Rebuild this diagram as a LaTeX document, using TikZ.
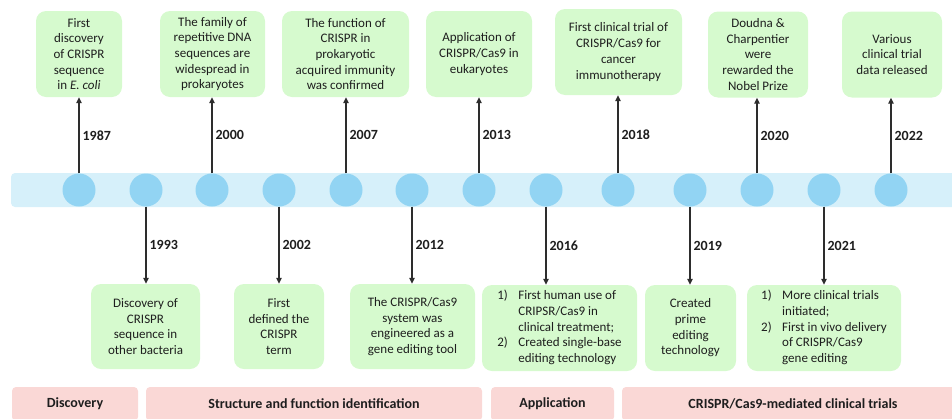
\documentclass[tikz,border=0pt]{standalone}
\usepackage{fontspec}
\setmainfont{Carlito}
\usepackage{tikz}
\usetikzlibrary{arrows.meta,positioning,calc}
\definecolor{TlGreen}{RGB}{214,250,206}
\definecolor{TlBand}{RGB}{214,240,250}
\definecolor{TlDot}{RGB}{146,212,243}
\definecolor{TlPink}{RGB}{250,216,214}
\definecolor{TlInk}{RGB}{30,30,30}
\definecolor{TlLine}{RGB}{45,45,45}
\tikzset{
  evbox/.style={fill=TlGreen, rounded corners=10pt, align=center, text=TlInk,
                font=\fontsize{13}{15.7}\selectfont, inner sep=2pt},
  phasebar/.style={fill=TlPink, rounded corners=4pt, align=center, text=TlInk,
                font=\fontsize{14}{16}\selectfont\bfseries, minimum height=34},
  dot/.style={circle, fill=TlDot, minimum size=33, inner sep=0pt},
  seta/.style={-{Triangle[length=6pt,width=5.5pt]}, line width=1.2pt, TlLine},
  yearlabel/.style={font=\fontsize{14}{16}\selectfont\bfseries, text=TlInk, inner sep=3pt},
}

\begin{document}
\begin{tikzpicture}[x=1pt,y=-1pt]
  \useasboundingbox (0,0) rectangle (952,418);

  % faixa da linha do tempo
  \fill[TlBand, rounded corners=4pt] (11,173) rectangle (970,207);
  \foreach \yr/\x in {1987/79, 1993/146, 2000/212, 2002/279, 2007/346, 2012/412, 2013/479,
                      2016/546, 2018/618, 2019/690, 2020/757, 2021/824, 2022/891}{
    \node[dot] (c\yr) at (\x,190) {};
  }

  % eventos acima da faixa
  \node[evbox, minimum width=86, minimum height=86] (b1987) at (79,54)
    {First\\discovery\\of CRISPR\\sequence\\in \textit{E. coli}};
  \node[evbox, minimum width=105, minimum height=86] (b2000) at (212.5,54)
    {The family of\\repetitive DNA\\sequences are\\widespread in\\prokaryotes};
  \node[evbox, minimum width=127, minimum height=86] (b2007) at (345.5,54)
    {The function of\\CRISPR in\\prokaryotic\\acquired immunity\\was confirmed};
  \node[evbox, minimum width=106, minimum height=86] (b2013) at (479,54)
    {Application of\\CRISPR/Cas9 in\\eukaryotes};
  \node[evbox, minimum width=127, minimum height=86] (b2018) at (618.5,52)
    {First clinical trial of\\CRISPR/Cas9 for\\cancer\\immunotherapy};
  \node[evbox, minimum width=100, minimum height=86] (b2020) at (758,54.5)
    {Doudna \&\\Charpentier\\were\\rewarded the\\Nobel Prize};
  \node[evbox, minimum width=100, minimum height=86] (b2022) at (892,54.5)
    {Various\\clinical trial\\data released};

  % eventos abaixo da faixa
  \node[evbox, minimum width=109, minimum height=85] (b1993) at (145.5,326.5)
    {Discovery of\\CRISPR\\sequence in\\other bacteria};
  \node[evbox, minimum width=90, minimum height=85] (b2002) at (279,326.5)
    {First\\defined the\\CRISPR\\term};
  \node[evbox, minimum width=125, minimum height=85] (b2012) at (412.5,326.5)
    {The CRISPR/Cas9\\system was\\engineered as a\\gene editing tool};
  \node[evbox, minimum width=155, minimum height=86] (b2016) at (559.5,328)
    {\begin{tabular}{@{}l@{\hspace{10.5pt}}l@{}}
      1) & First human use of\\
         & CRIPSR/Cas9 in\\
         & clinical treatment;\\
      2) & Created single-base\\
         & editing technology
     \end{tabular}};
  \node[evbox, minimum width=91, minimum height=86] (b2019) at (690.5,328)
    {Created\\prime\\editing\\technology};
  \node[evbox, minimum width=154, minimum height=86] (b2021) at (824,328)
    {\begin{tabular}{@{}l@{\hspace{10.5pt}}l@{}}
      1) & More clinical trials\\
         & initiated;\\
      2) & First in vivo delivery\\
         & of CRISPR/Cas9\\
         & gene editing
     \end{tabular}};

  % setas com os anos
  \foreach \yr in {1987,2000,2007,2013,2018,2020,2022}{
    \draw[seta] (c\yr) -- node[yearlabel, right] {\yr} (c\yr |- b\yr.south);
  }
  \foreach \yr in {1993,2002,2012,2016,2019,2021}{
    \draw[seta] (c\yr) -- node[yearlabel, right] {\yr} (c\yr |- b\yr.north);
  }

  % fases
  \node[phasebar, minimum width=126] (fdisc) at (75,404) {Discovery};
  \node[phasebar, minimum width=336] (fstruct) at (314,404) {Structure and function identification};
  \node[phasebar, minimum width=123] (fapp) at (552.5,404) {Application};
  \node[phasebar, minimum width=342] (fclin) at (793,404) {CRISPR/Cas9-mediated clinical trials};
\end{tikzpicture}
\end{document}
